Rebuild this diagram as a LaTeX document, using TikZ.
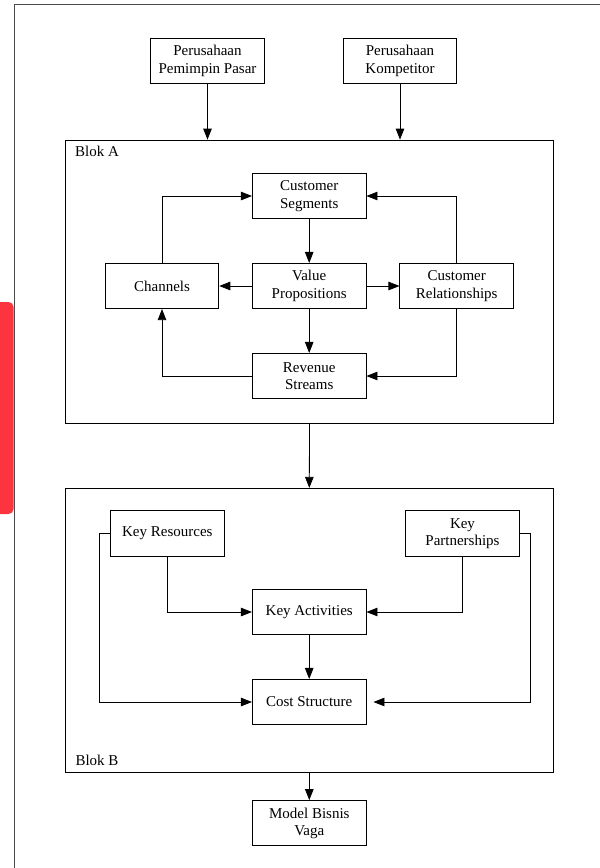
\documentclass[tikz,border=0pt]{standalone}
\usepackage{fontspec}
\setmainfont{Liberation Serif}
\usetikzlibrary{arrows.meta}
\definecolor{blobred}{RGB}{252,52,64}
\begin{document}
\begin{tikzpicture}[x=1pt,y=-1pt]

\tikzstyle{box1}=[rectangle, draw, minimum width=113.7pt, minimum height=45.3pt, align=center, inner sep=0pt, font=\fontsize{15}{17.3}\selectfont, line width=0.8pt]
\tikzstyle{blok}=[rectangle, draw, inner sep=0pt, line width=0.8pt]
\tikzstyle{arrow}=[-{Triangle[length=11pt,width=8.5pt]}, line width=0.8pt]
\tikzstyle{label1}=[anchor=base west, inner sep=0pt, font=\fontsize{15}{17.3}\selectfont]

\useasboundingbox (0,0) rectangle (600,868);
\draw [black!70, line width=1pt] (14.5,4.7) rectangle (620,890);
\fill [blobred, rounded corners=5pt] (-6,302) rectangle (13.5,514);

\node (PP) [box1] at (207.5,61)   {Perusahaan\\Pemimpin Pasar};
\node (PK) [box1] at (400,61)     {Perusahaan\\Kompetitor};

\node (BA) [blok, minimum width=487.6pt, minimum height=283.3pt] at (309.5,281.7) {};
\node (LA) [label1] at (75,156) {Blok A};

\node (CS) [box1] at (309.2,196)  {Customer\\Segments};
\node (C)  [box1] at (162,286)    {Channels};
\node (VP) [box1] at (309.2,286)  {Value\\Propositions};
\node (CR) [box1] at (456.7,286)  {Customer\\Relationships};
\node (RS) [box1] at (309.2,376)  {Revenue\\Streams};

\node (BB) [blok, minimum width=488pt, minimum height=284pt] at (309.3,630.3) {};
\node (LB) [label1] at (75.3,765) {Blok B};

\node (KR) [box1] at (167.3,533.5) {Key Resources};
\node (KP) [box1] at (462.5,533.5) {Key\\Partnerships};
\node (KA) [box1] at (309.2,612)   {Key Activities};
\node (KS) [box1] at (309.2,702)   {Cost Structure};

\node (MB) [box1] at (309.3,823.2) {Model Bisnis\\Vaga};

\coordinate (L) at (99.3,533.5);
\coordinate (R) at (530.3,533.5);

\draw [arrow] (PP) -- (PP |- BA.north);
\draw [arrow] (PK) -- (PK |- BA.north);

\draw [arrow] (CS) -- (VP);
\draw [arrow] (VP) -- (C);
\draw [arrow] (VP) -- (CR);
\draw [arrow] (VP) -- (RS);
\draw [arrow] (C.north) |- (CS.west);
\draw [arrow] (CR.north) |- (CS.east);
\draw [arrow] (RS.west) -| (C.south);
\draw [arrow] (CR.south) |- (RS.east);

\draw [arrow] (BA.south) -- (BB.north);

\draw [arrow] (KR.south) |- (KA.west);
\draw [arrow] (KP.south) |- (KA.east);
\draw [arrow] (KA) -- (KS);
\draw [arrow] (KR.west) -- (L) |- (KS.west);
\draw [arrow, shorten >=7pt] (KP.east) -- (R) |- (KS.east);

\draw [arrow] (BB.south) -- (MB.north);

\end{tikzpicture}
\end{document}
